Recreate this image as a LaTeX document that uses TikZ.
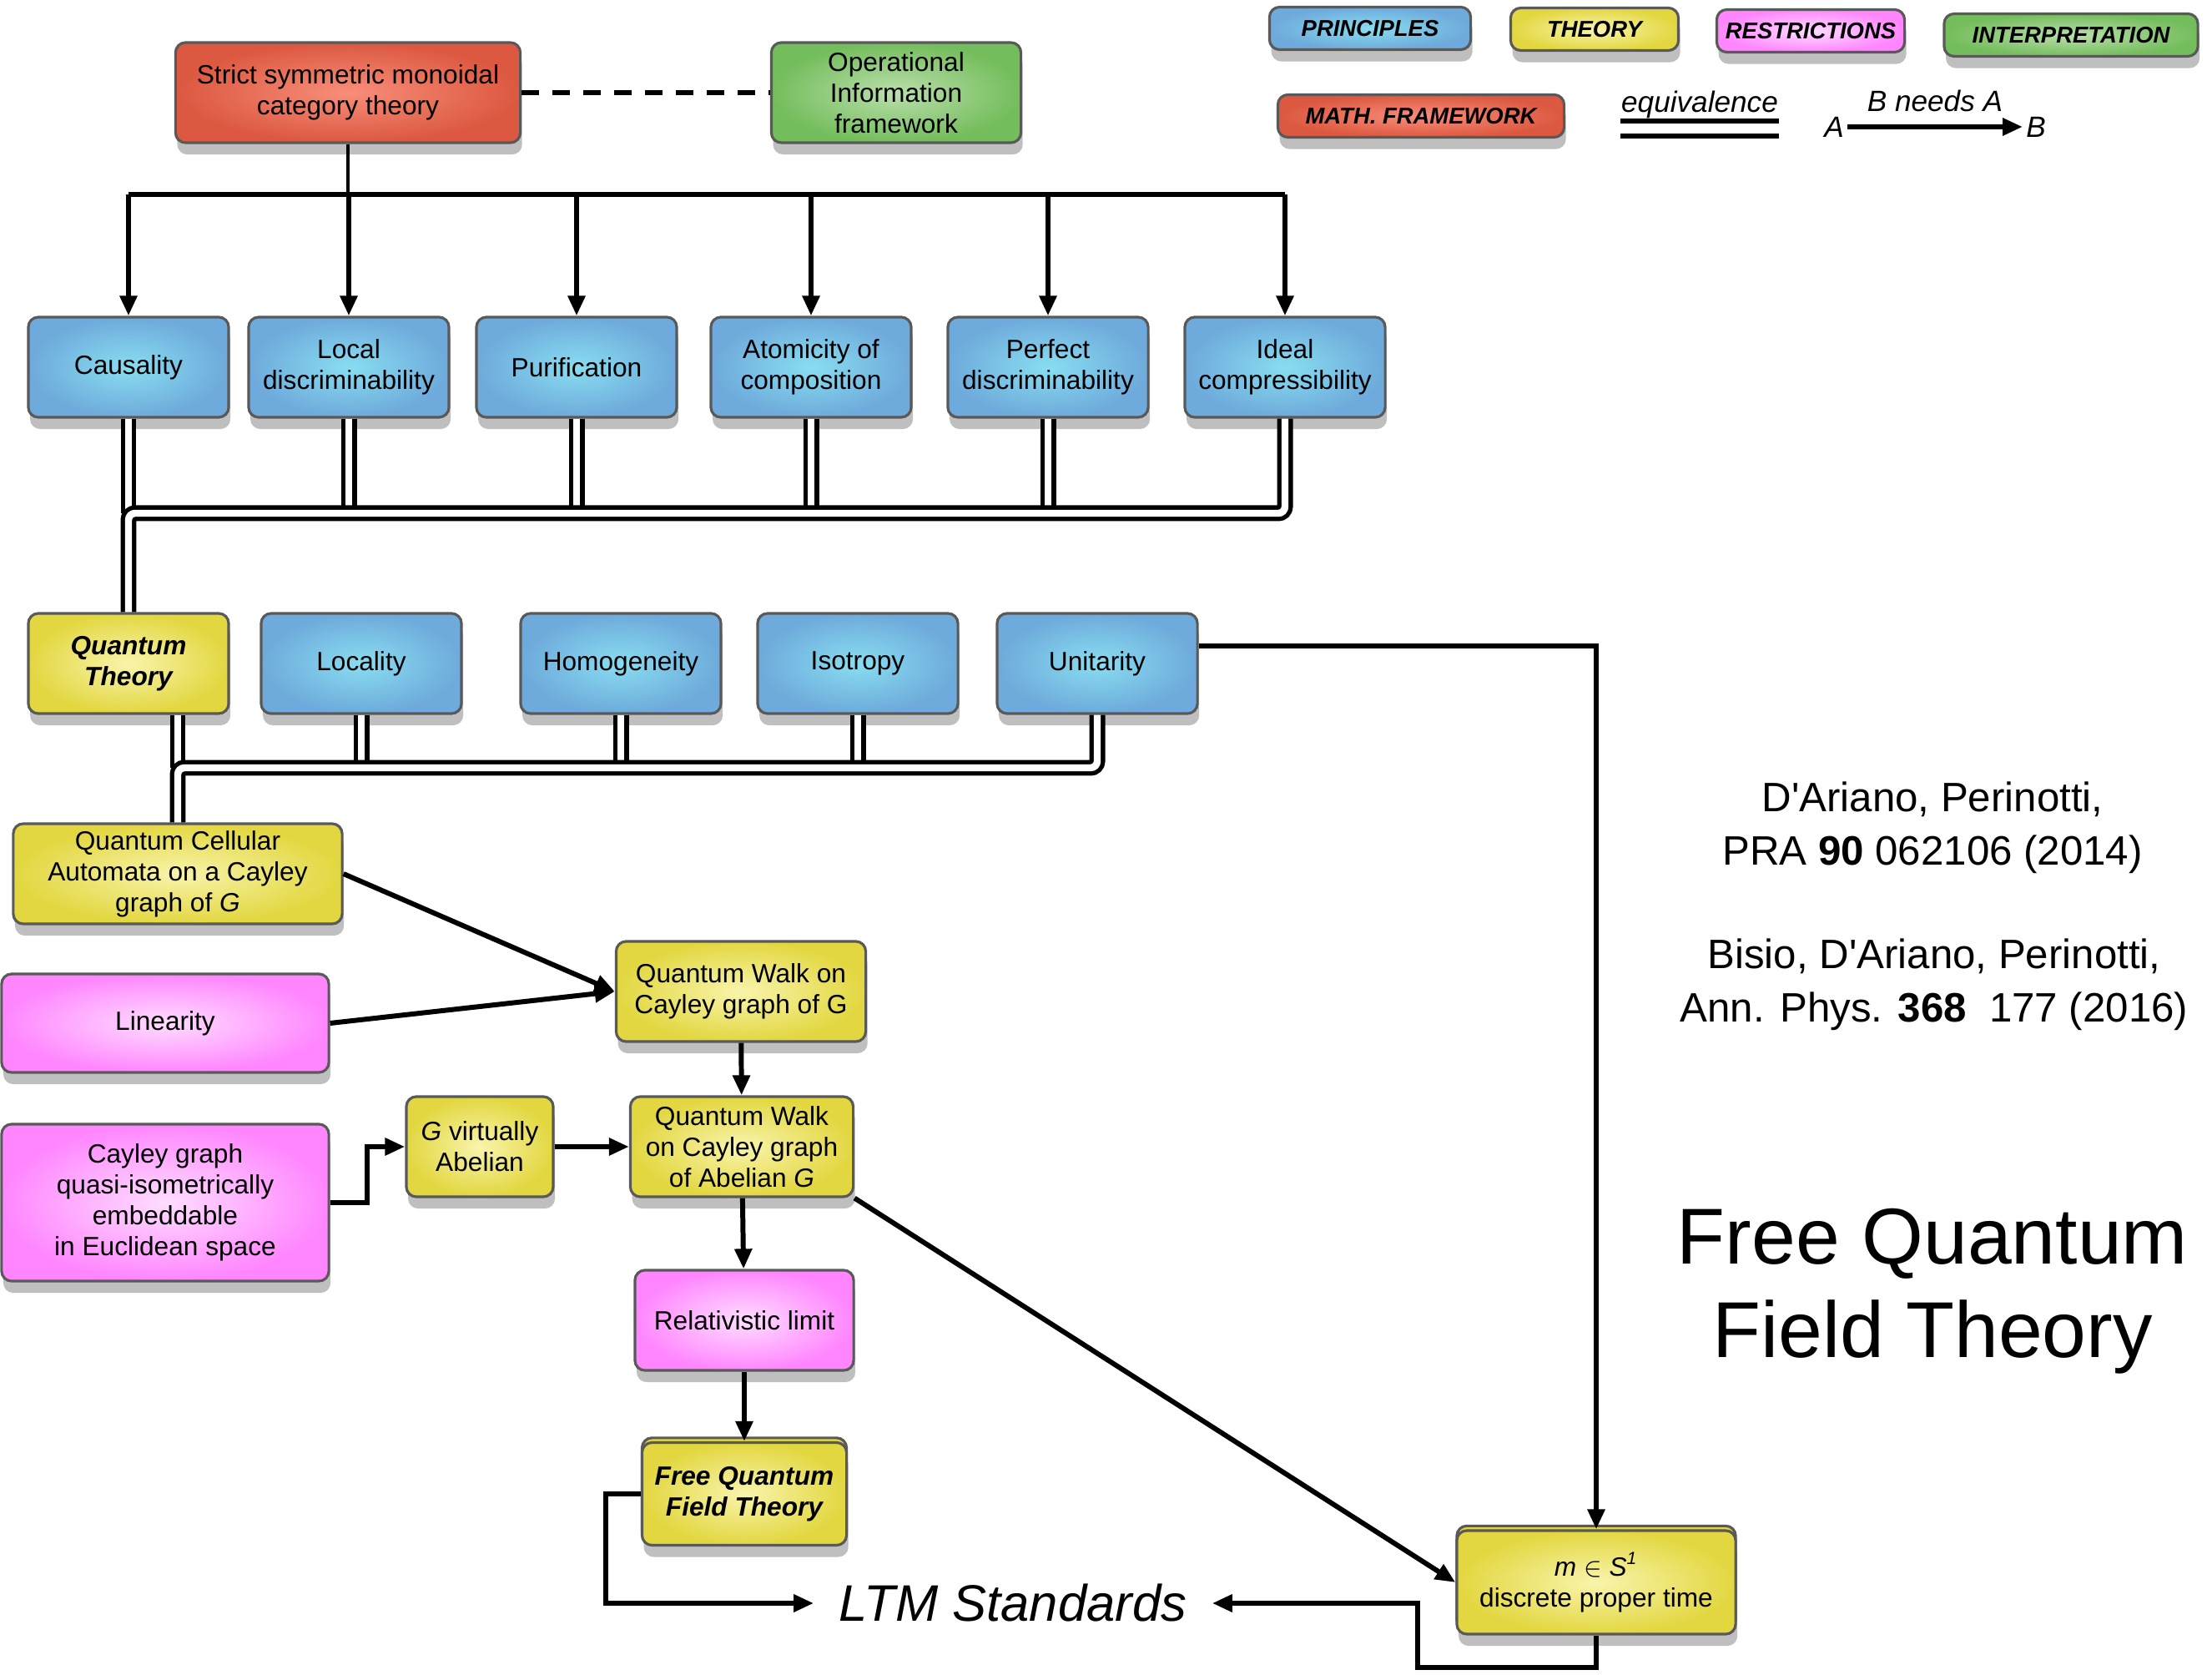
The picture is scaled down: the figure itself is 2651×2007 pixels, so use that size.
\documentclass[tikz,border=0pt]{standalone}
\usepackage{fontspec}
\setmainfont{Liberation Sans}
\usepackage{tikz}
\usetikzlibrary{arrows.meta,shadows,positioning}

\definecolor{blueIn}{HTML}{88DDF1}
\definecolor{blueOut}{HTML}{6EAADB}
\definecolor{yelIn}{HTML}{F9F4AC}
\definecolor{yelOut}{HTML}{E2D740}
\definecolor{pinkIn}{HTML}{FFDDFF}
\definecolor{pinkOut}{HTML}{FF86FF}
\definecolor{redIn}{HTML}{F88E7A}
\definecolor{redOut}{HTML}{DC5840}
\definecolor{greenIn}{HTML}{BADFAC}
\definecolor{greenOut}{HTML}{74BD5C}

\begin{document}
\begin{tikzpicture}[
    x=0.01cm, y=-0.01cm,
    box/.style={rectangle, draw=black!65, line width=0.9pt, rounded corners=0.12cm, align=center, minimum height=1.2cm, inner sep=2pt, font=\fontsize{9}{10.5}\selectfont,
      drop shadow={shadow xshift=0.6pt, shadow yshift=-4pt, opacity=0.25, fill=black}},
    principle/.style={box, inner color=blueIn, outer color=blueOut, minimum width=2.4cm},
    theory/.style={box, inner color=yelIn, outer color=yelOut},
    restrict/.style={box, inner color=pinkIn, outer color=pinkOut},
    mathfw/.style={box, inner color=redIn, outer color=redOut},
    interp/.style={box, inner color=greenIn, outer color=greenOut},
    keybox/.style={font=\fontsize{9}{10.5}\selectfont\bfseries\itshape},
    stacked/.style={copy shadow={shadow xshift=0pt, shadow yshift=1.6pt, fill=yelOut, draw=black!65}},
    legend/.style={minimum height=0.51cm, inner sep=1pt, font=\fontsize{7.8}{9}\selectfont\bfseries\itshape},
    arrow/.style={-{Triangle[length=0.24cm,width=0.2cm]}, line width=1.7pt},
    wire/.style={line width=1.7pt},
    equiv/.style={double, double distance=2.4pt, line width=1.5pt, rounded corners=0.08cm},
    dashline/.style={line width=1.7pt, dash pattern=on 6pt off 4.5pt}
  ]
    \useasboundingbox (0,0) rectangle (2651,2007);

    % legend
    \node[principle, legend, minimum width=2.41cm] (legprin) at (1642,34) {PRINCIPLES};
    \node[theory, legend, minimum width=2.01cm] (legtheory) at (1911,35) {THEORY};
    \node[restrict, legend, minimum width=2.25cm] (legrestr) at (2170,37) {RESTRICTIONS};
    \node[interp, legend, minimum width=3.04cm] (leginterp) at (2482,42) {INTERPRETATION};
    \node[mathfw, legend, minimum width=3.43cm] (legmath) at (1703,139) {MATH. FRAMEWORK};
    \node[inner sep=0pt, font=\fontsize{10}{12}\selectfont\itshape] (legequiv) at (2037,125) {equivalence};
    \draw[equiv, double distance=3.6pt, rounded corners=0pt] ([yshift=-0.12cm]legequiv.south west) -- ([yshift=-0.12cm]legequiv.south east);
    \node[inner sep=1pt, font=\fontsize{10}{12}\selectfont\itshape] (legA) at (2198,152) {A};
    \node[inner sep=1pt, font=\fontsize{10}{12}\selectfont\itshape] (legB) at (2440,152) {B};
    \draw[arrow] (legA) -- (legB) node[midway, above=1pt, font=\fontsize{10}{12}\selectfont\itshape] {B needs A};

    % framework
    \node[mathfw, minimum width=4.13cm] (strict) at (417,111) {Strict symmetric monoidal\\category theory};
    \node[interp, minimum width=2.99cm] (opinfo) at (1074,111) {Operational\\Information\\framework};

    % principles
    \node[principle] (causality) at (154,440) {Causality};
    \node[principle] (localdisc) at (418,440) {Local\\discriminability};
    \node[principle] (purif) at (691,440) {Purification};
    \node[principle] (atomic) at (972,440) {Atomicity of\\composition};
    \node[principle] (perfdisc) at (1256,440) {Perfect\\discriminability};
    \node[principle] (idealcomp) at (1540,440) {Ideal\\compressibility};

    \node[theory, keybox, minimum width=2.4cm] (qt) at (154,795) {Quantum\\Theory};
    \node[principle] (locality) at (433,795) {Locality};
    \node[principle] (homog) at (744,795) {Homogeneity};
    \node[principle] (isotropy) at (1028,795) {Isotropy};
    \node[principle] (unitarity) at (1315,795) {Unitarity};

    % walks
    \node[theory, minimum width=3.94cm] (qca) at (213,1047) {Quantum Cellular\\Automata on a Cayley\\graph of \textit{G}};
    \node[restrict, minimum width=3.92cm, minimum height=1.18cm] (linearity) at (198,1226) {Linearity};
    \node[theory, minimum width=2.99cm] (qwcay) at (888,1188) {Quantum Walk on\\Cayley graph of G};
    \node[theory, minimum width=2.67cm] (qwab) at (889,1374) {Quantum Walk\\on Cayley graph\\of Abelian \textit{G}};
    \node[theory, minimum width=1.76cm] (gvirt) at (575,1374) {\textit{G} virtually\\Abelian};
    \node[restrict, minimum width=3.92cm, minimum height=1.88cm] (cayley) at (198,1441) {Cayley graph\\quasi-isometrically\\embeddable\\in Euclidean space};
    \node[restrict, minimum width=2.62cm] (rellim) at (892,1582) {Relativistic limit};
    \node[theory, keybox, stacked, minimum width=2.45cm, minimum height=1.23cm] (fqft) at (892,1790) {Free Quantum\\Field Theory};
    \node[theory, stacked, minimum width=3.34cm, minimum height=1.24cm] (mtime) at (1913,1896) {\textit{m} $\in$ \textit{S}\textsuperscript{\textit{1}}\\discrete proper time};
    \node[inner xsep=0.3cm, font=\fontsize{17.5}{20}\selectfont\itshape] (ltm) at (1214,1921) {LTM Standards};

    % references and title
    \node[align=center, font=\fontsize{14}{18.2}\selectfont] (cite1) at (2316,992) {D\textquotesingle Ariano, Perinotti,\\PRA \textbf{90} 062106 (2014)};
    \node[align=center, font=\fontsize{14}{18.2}\selectfont] (cite2) at (2318,1180) {Bisio, D\textquotesingle Ariano, Perinotti,\\Ann. Phys. \textbf{368}~ 177 (2016)};
    \node[align=center, font=\fontsize{27}{32}\selectfont] (title) at (2316,1547) {Free Quantum\\Field Theory};

    % connectors
    \coordinate (busL) at (154,233);
    \draw[dashline] (strict) -- (opinfo);
    \draw[line width=1.1pt] (strict) -- (strict |- busL);
    \draw[wire] (causality |- busL) -- (idealcomp |- busL);
    \draw[arrow] (causality |- busL) -- (causality);
    \draw[arrow] (localdisc |- busL) -- (localdisc);
    \draw[arrow] (purif |- busL) -- (purif);
    \draw[arrow] (atomic |- busL) -- (atomic);
    \draw[arrow] (perfdisc |- busL) -- (perfdisc);
    \draw[arrow] (idealcomp |- busL) -- (idealcomp);

    \coordinate (dbus1) at (154,615);
    \draw[equiv] (causality) -- (causality |- dbus1);
    \draw[equiv] (localdisc) -- (localdisc |- dbus1);
    \draw[equiv] (purif) -- (purif |- dbus1);
    \draw[equiv] (atomic) -- (atomic |- dbus1);
    \draw[equiv] (perfdisc) -- (perfdisc |- dbus1);
    \draw[equiv] (idealcomp) |- (dbus1) -- (qt);

    \coordinate (dbus2) at (213,920);
    \draw[equiv] (qt.south -| dbus2) -- (dbus2);
    \draw[equiv] (locality) -- (locality |- dbus2);
    \draw[equiv] (homog) -- (homog |- dbus2);
    \draw[equiv] (isotropy) -- (isotropy |- dbus2);
    \draw[equiv] (unitarity) |- (dbus2) -- (qca);

    \draw[arrow] ([yshift=0.21cm]unitarity.east) -| (mtime);
    \draw[arrow] (qca.east) -- (qwcay.west);
    \draw[arrow] (linearity.east) -- (qwcay.west);
    \draw[arrow] (qwcay) -- (qwab);
    \draw[arrow] (cayley.east) -- ++(44,0) |- (gvirt.west);
    \draw[arrow] (gvirt) -- (qwab);
    \draw[arrow] (qwab) -- (rellim);
    \draw[arrow] (rellim) -- (fqft);
    \draw[arrow] (qwab.south east) -- (mtime.west);
    \draw[arrow] (fqft.west) -- ++(-42,0) |- (ltm.west);
    \coordinate (ltmbend) at (1699,1998);
    \draw[arrow] (mtime.south) |- (ltmbend) |- (ltm.east);
  \end{tikzpicture}
\end{document}
